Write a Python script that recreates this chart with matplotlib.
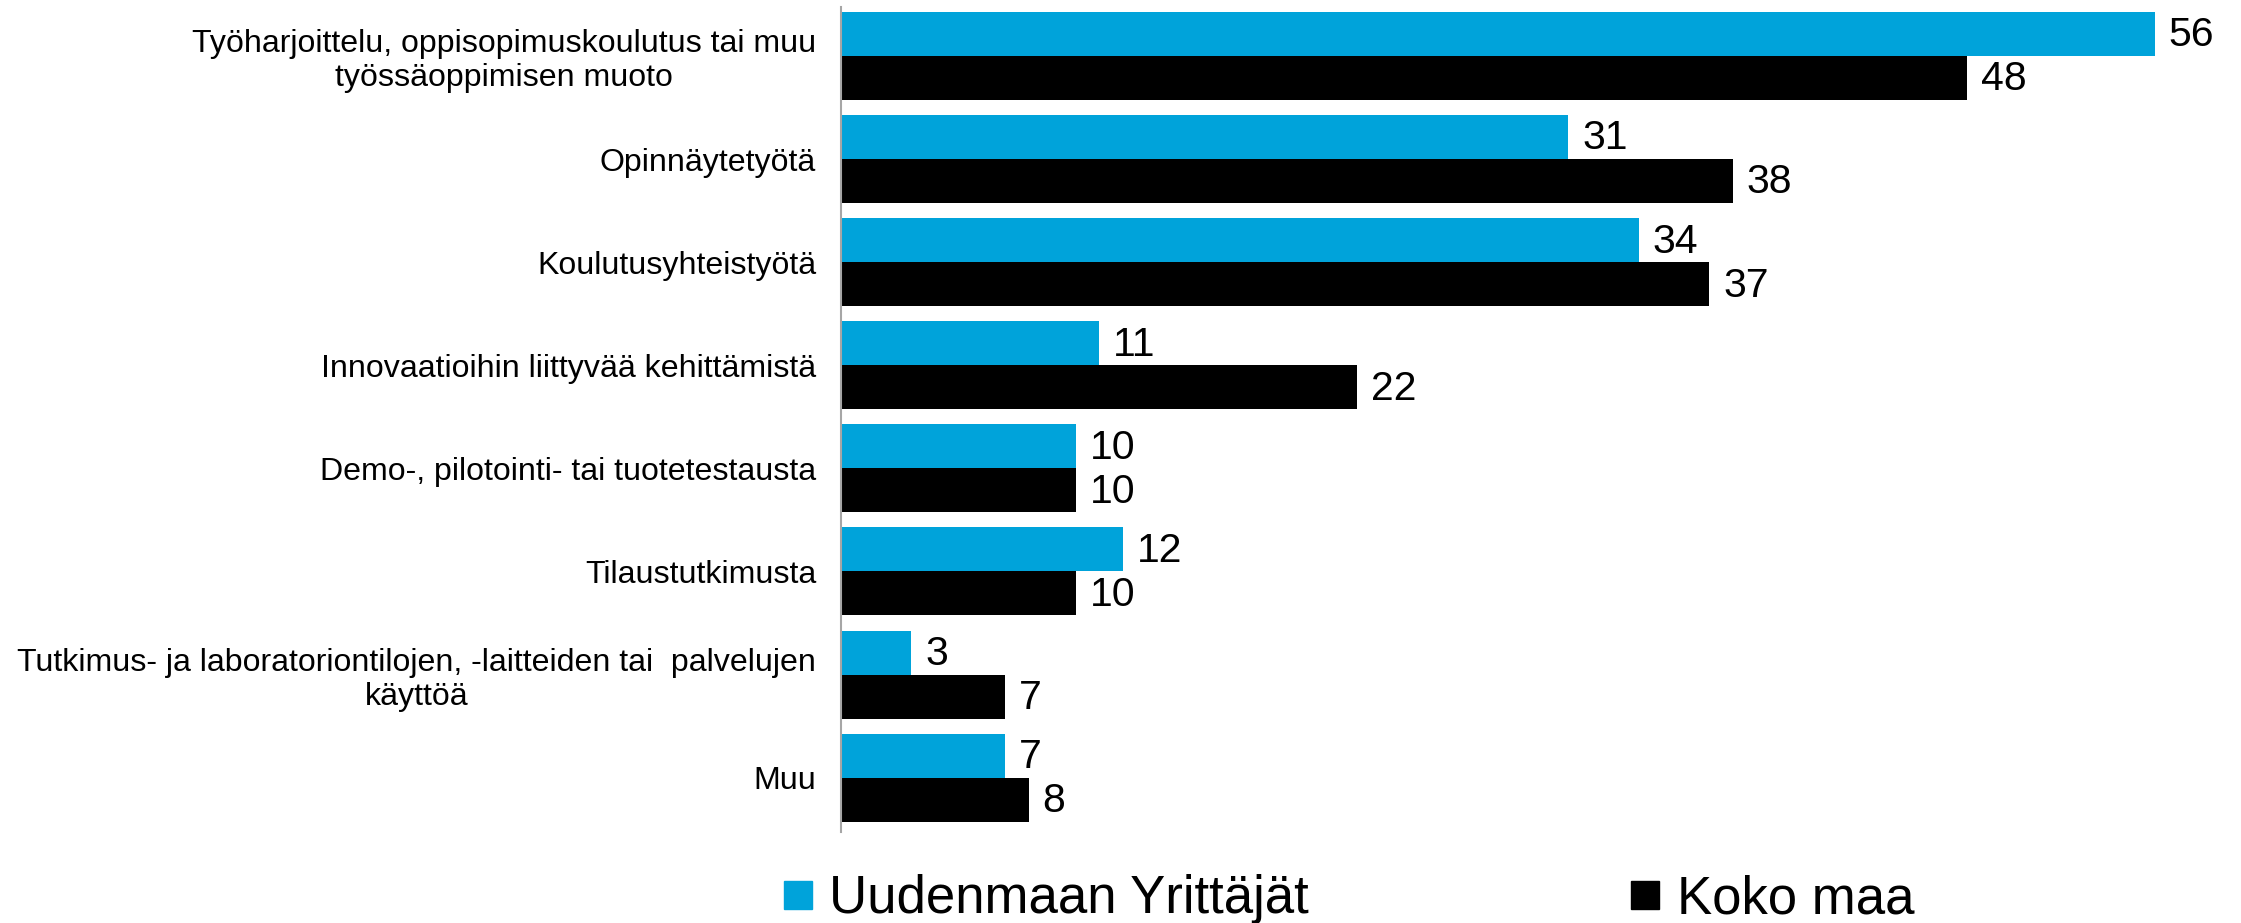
import numpy as np
import matplotlib.pyplot as plt
from matplotlib.lines import Line2D

plt.rcParams['font.family'] = ['Liberation Sans', 'DejaVu Sans']

# Kategoriat ja osuudet (%)
kategoriat = [
    "Työharjoittelu, oppisopimuskoulutus tai muu\ntyössäoppimisen muoto",
    "Opinnäytetyötä",
    "Koulutusyhteistyötä",
    "Innovaatioihin liittyvää kehittämistä",
    "Demo-, pilotointi- tai tuotetestausta",
    "Tilaustutkimusta",
    "Tutkimus- ja laboratoriontilojen, -laitteiden tai  palvelujen\nkäyttöä",
    "Muu",
]
uusimaa = [56, 31, 34, 11, 10, 12, 3, 7]
koko_maa = [48, 38, 37, 22, 10, 10, 7, 8]

sarjat = ["Uudenmaan Yrittäjät", "Koko maa"]
varit = ["#00A3DA", "#000000"]

fig = plt.figure(figsize=(22.41, 9.23), dpi=100)
ax = fig.add_axes([0.3753, 0.0986, 0.6072, 0.8938])

y = np.arange(len(kategoriat))
h = 0.427

b1 = ax.barh(y - h / 2, uusimaa, height=h, color=varit[0])
b2 = ax.barh(y + h / 2, koko_maa, height=h, color=varit[1])

# Arvot palkkien perään
for bars, vals in [(b1, uusimaa), (b2, koko_maa)]:
    for bar, v in zip(bars, vals):
        ax.annotate(str(v), (bar.get_width(), bar.get_y() + bar.get_height() / 2),
                    xytext=(10, -1), textcoords='offset points',
                    ha='left', va='center', fontsize=29.5, color='black')

ax.set_xlim(0, 58)
ax.set_ylim(7.527, -0.475)

ax.set_yticks(y)
ax.set_yticklabels(kategoriat, fontsize=23.1, linespacing=1.15)
for t in ax.get_yticklabels():
    t.set_multialignment('center')
ax.tick_params(axis='y', length=0, pad=18)
ax.set_xticks([])

for s in ['top', 'right', 'bottom']:
    ax.spines[s].set_visible(False)
ax.spines['left'].set_color('#A6A6A6')
ax.spines['left'].set_linewidth(1.5)

# Selite alas
kahvat = [Line2D([], [], marker='s', linestyle='none', markersize=20.5,
                 markerfacecolor=c, markeredgecolor=c) for c in varit]
fig.legend(kahvat, sarjat, loc='center left', bbox_to_anchor=(0.3495, 1 - 899 / 923),
           ncol=2, frameon=False, fontsize=38, handlelength=0.55,
           handletextpad=0.32, columnspacing=6.1, borderpad=0, borderaxespad=0)

plt.savefig('out.png', dpi=100)
plt.close()
